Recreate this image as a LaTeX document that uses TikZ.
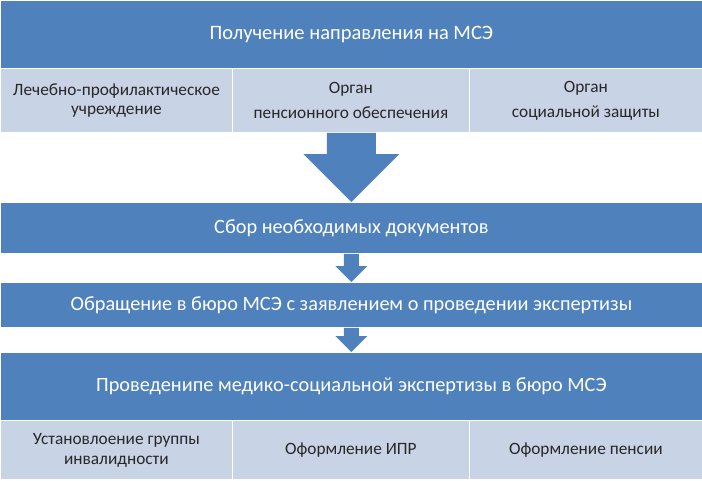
\documentclass[tikz,border=0pt]{standalone}
\usepackage{fontspec}
\setmainfont{Carlito}
\usetikzlibrary{calc}
\definecolor{bandblue}{RGB}{79,129,189}
\definecolor{bandlight}{RGB}{201,211,230}
\definecolor{celltext}{RGB}{40,40,40}
\newcommand{\blkarrow}[4]{%
  \fill[blockarrow] ($(#1)+(-#3,0)$) -- ($(#1)+(#3,0)$) -- ($(#2)+(#3,-#4)$) -- ($(#2)+(#4,-#4)$) -- (#2) -- ($(#2)+(-#4,-#4)$) -- ($(#2)+(-#3,-#4)$) -- cycle;}
\begin{document}
\begin{tikzpicture}[x=1pt,y=-1pt,
  blueband/.style={fill=bandblue, draw=white, line width=0.8pt, inner sep=0pt, anchor=north west, text=white, font=\fontsize{20.3}{24}\selectfont, minimum width=702pt},
  cell/.style={fill=bandlight, draw=white, line width=0.8pt, inner sep=0pt, anchor=north west, text=celltext, font=\fontsize{17.3}{19}\selectfont, align=center},
  blockarrow/.style={fill=bandblue, draw=none}]
\useasboundingbox (0,0) rectangle (702,480);
% row 1
\node[blueband, minimum height=68pt, font=\fontsize{20.5}{24}\selectfont] (b1) at (0,0) {Получение направления на МСЭ};
\node[cell, minimum width=232pt, minimum height=64pt] (c1) at (0,68) {Лечебно-профилактическое\\учреждение};
\node[cell, minimum width=237pt, minimum height=64pt] (c2) at (232,68) {Орган\\[6pt]пенсионного обеспечения};
\node[cell, minimum width=233pt, minimum height=64pt] (c3) at (469,68) {Орган\\[6pt]социальной защиты};
% row 2
\node[blueband, minimum height=51pt] (b2) at (0,202) {Сбор необходимых документов};
% row 3
\node[blueband, minimum height=45pt] (b3) at (0,282) {Обращение в бюро МСЭ с заявлением о проведении экспертизы};
% row 4
\node[blueband, minimum height=68pt] (b4) at (0,352) {Проведенипе медико-социальной экспертизы в бюро МСЭ};
\node[cell, minimum width=232pt, minimum height=59pt] (d1) at (0,420) {Установлоение группы\\[1pt]инвалидности};
\node[cell, minimum width=237pt, minimum height=59pt] (d2) at (232,420) {Оформление ИПР};
\node[cell, minimum width=233pt, minimum height=59pt] (d3) at (469,420) {Оформление пенсии};
% arrows
\coordinate (a1s) at (b1.south |- c2.south);
\blkarrow{a1s}{b2.north}{24.5}{48}
\blkarrow{b2.south}{b3.north}{7.5}{16}
\blkarrow{b3.south}{b4.north}{7.5}{16}
\end{tikzpicture}
\end{document}
